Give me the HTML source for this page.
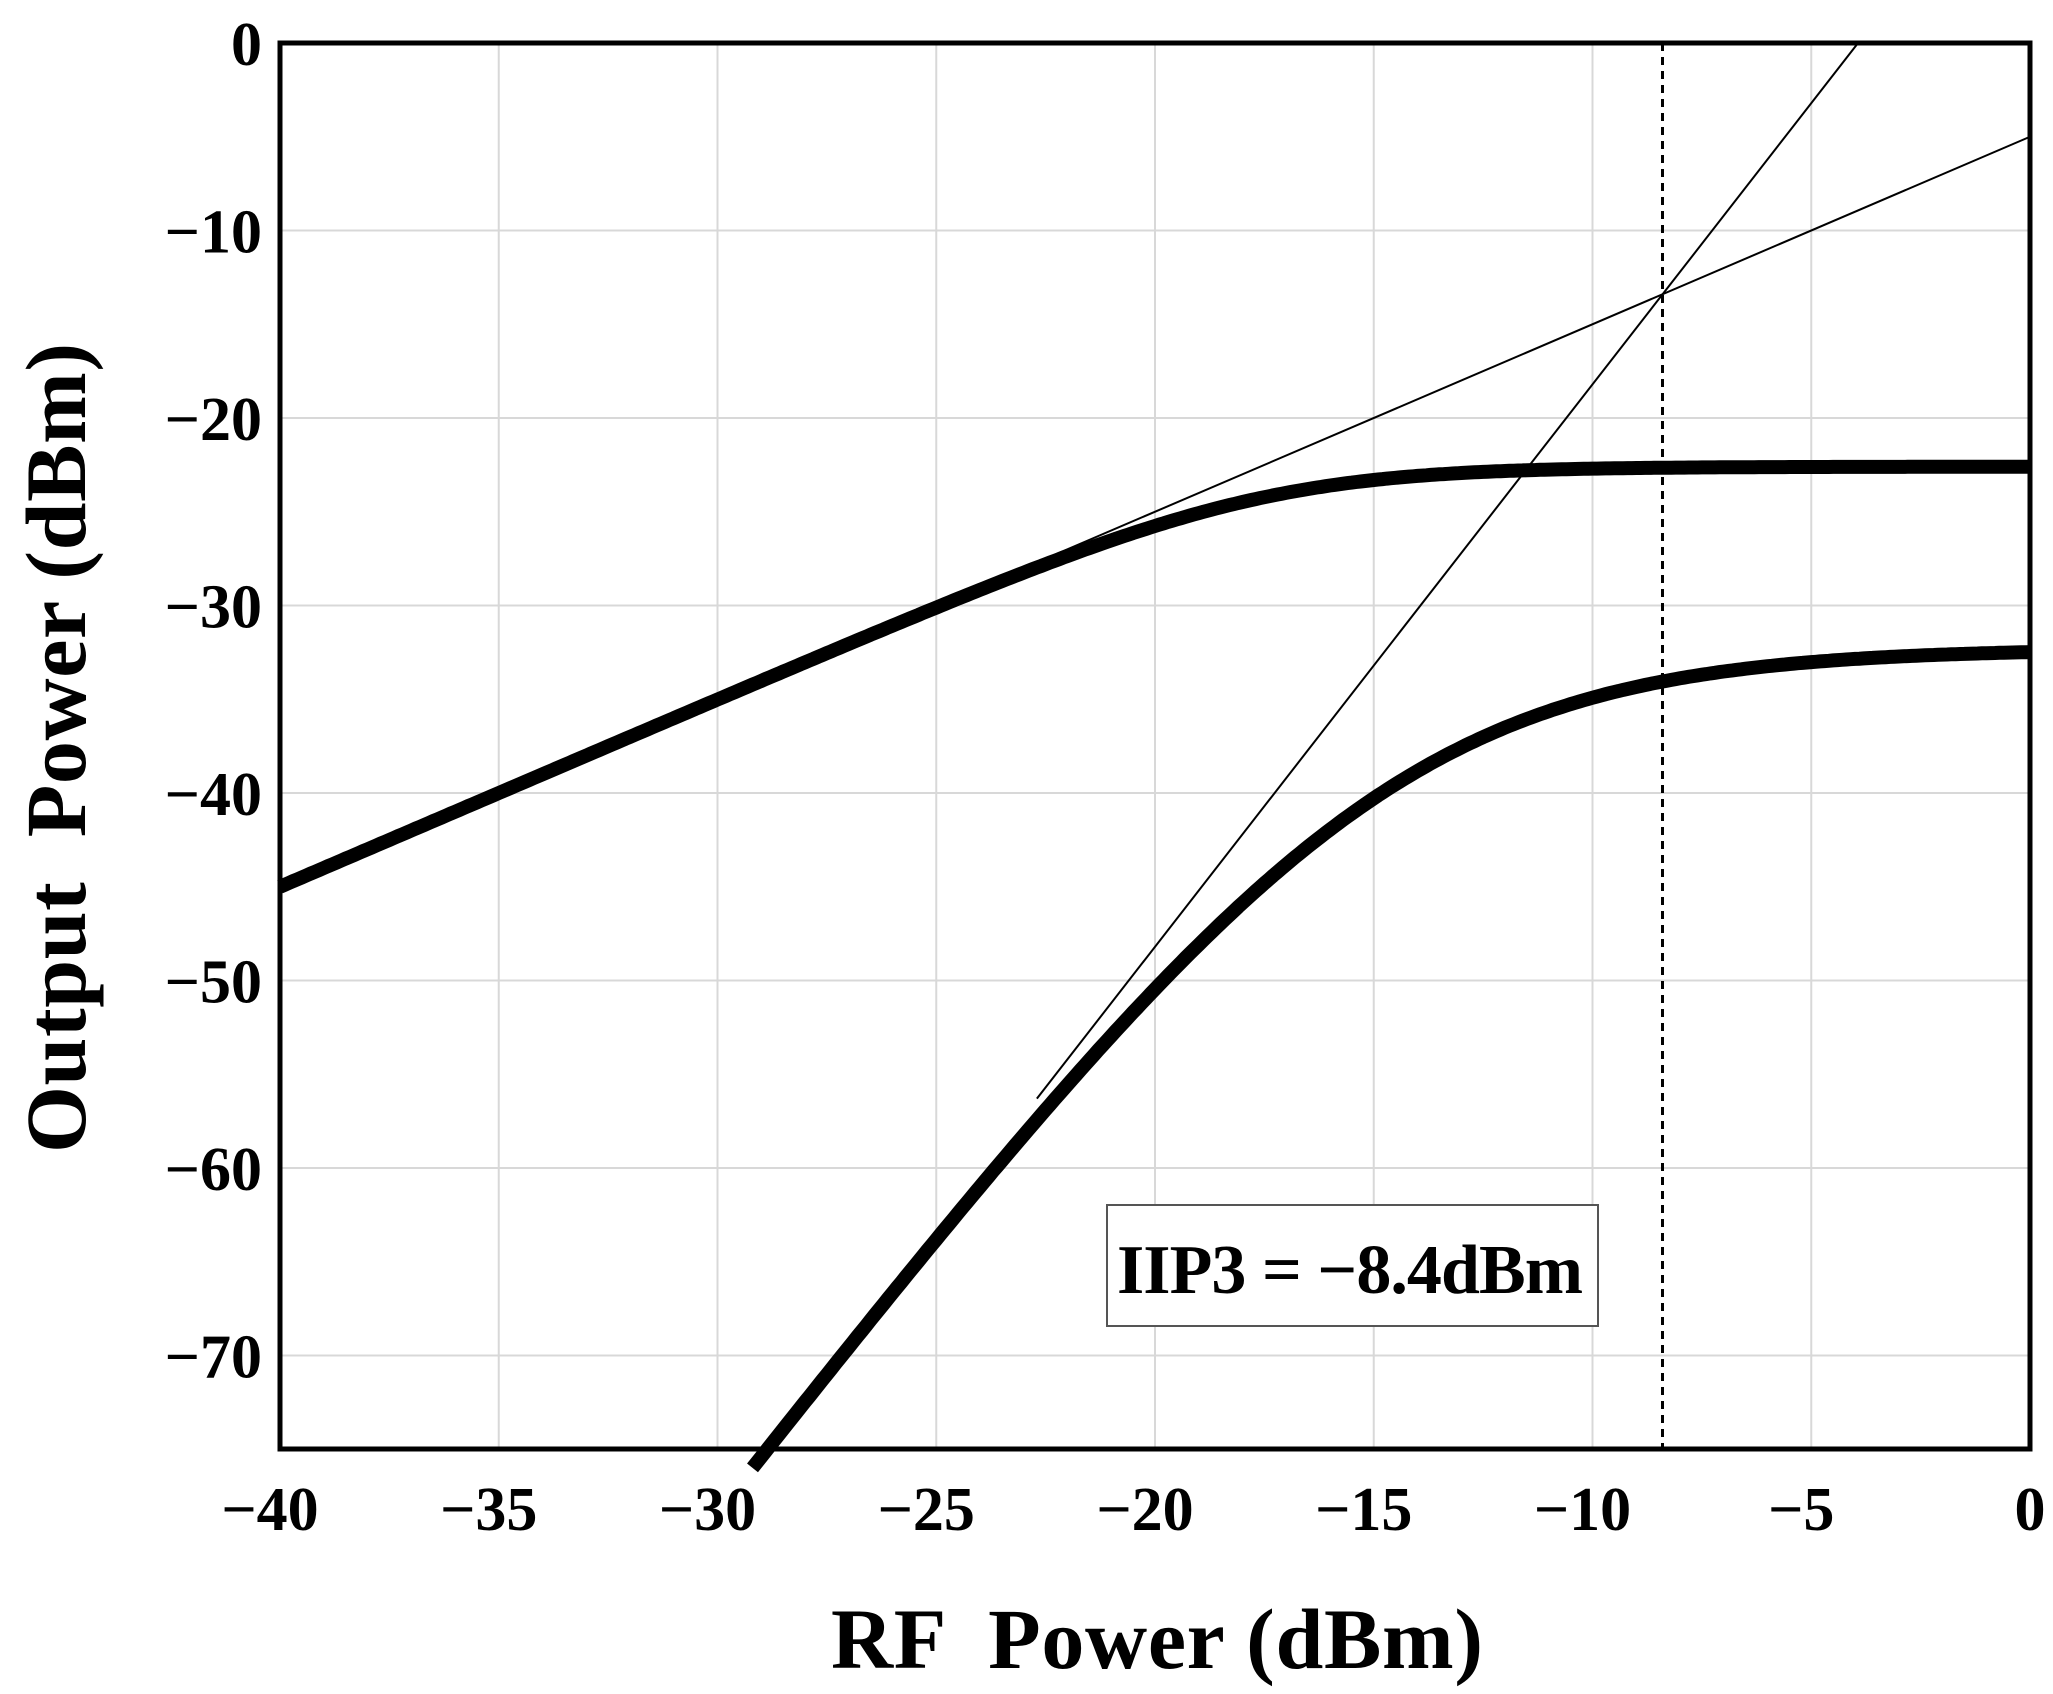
<!DOCTYPE html>
<html><head><meta charset="utf-8"><style>
html,body{margin:0;padding:0;background:#fff;}
svg{display:block;}
text{font-family:"Liberation Serif",serif;font-weight:bold;fill:#000;}
</style></head><body>
<svg id="s" width="2053" height="1694" viewBox="0 0 2053 1694" xmlns="http://www.w3.org/2000/svg">
<g id="grid" stroke="#d8d8d8" stroke-width="2"></g>
<g id="curves" fill="none" stroke="#000"></g>
<rect x="280" y="43" width="1750" height="1406" fill="none" stroke="#000" stroke-width="5"/>
<rect x="1107" y="1205" width="491" height="121" fill="#fff" stroke="#555" stroke-width="2"/>
<text x="1350" y="1293" font-size="70" text-anchor="middle" textLength="466">IIP3 = −8.4dBm</text>
<g id="ticks" font-size="62"></g>
<text x="1157" y="1668" font-size="86" text-anchor="middle" textLength="652" xml:space="preserve">RF  Power (dBm)</text>
<text transform="translate(85,748) rotate(-90)" font-size="86" text-anchor="middle" textLength="810" xml:space="preserve">Output  Power (dBm)</text>
</svg>
<script>
var X=function(v){return 280+(v+40)*43.75;},Y=function(v){return 43-v*18.75;};
var ns="http://www.w3.org/2000/svg";
function el(p,t,a,txt){var e=document.createElementNS(ns,t);for(var k in a)e.setAttribute(k,a[k]);if(txt)e.textContent=txt;document.getElementById(p).appendChild(e);}
for(var v=-35;v<0;v+=5)el("grid","line",{x1:X(v),x2:X(v),y1:43,y2:1449});
for(var v=-10;v>-75;v-=10)el("grid","line",{x1:280,x2:2030,y1:Y(v),y2:Y(v)});
for(var v=-40;v<=0;v+=5)el("ticks","text",{x:X(v)-(v<0?10:0),y:1530,"text-anchor":"middle"},v<0?"−"+(-v):"0");
for(var v=0;v>=-70;v-=10)el("ticks","text",{x:262,y:Y(v)+22,"text-anchor":"end"},v<0?"−"+(-v):"0");
function path(f,a,b){var d="";for(var x=a;x<=b+1e-9;x+=0.1){var y=f(x);d+=(d?"L":"M")+X(x).toFixed(1)+","+Y(y).toFixed(1);}return d;}
function smin(L,P,n){return -(10/n)*Math.log10(Math.pow(10,-n*L/10)+Math.pow(10,-n*P/10));}
el("curves","path",{d:path(function(x){return smin(x-5,-22.6,1.8);},-40,0),"stroke-width":"14"});
el("curves","path",{d:path(function(x){return smin(-13.4+3*(x+8.4),-32.3,0.40);},-29.2,0),"stroke-width":"14"});
el("curves","line",{x1:X(-23),y1:Y(-28),x2:X(0),y2:Y(-5),"stroke-width":"2"});
el("curves","line",{x1:X(-22.7),y1:Y(-56.3),x2:X(-3.93),y2:Y(0),"stroke-width":"2"});
el("curves","line",{x1:X(-8.4),y1:43,x2:X(-8.4),y2:1449,"stroke-width":"3","stroke-dasharray":"8,6"});
</script>
</body></html>
